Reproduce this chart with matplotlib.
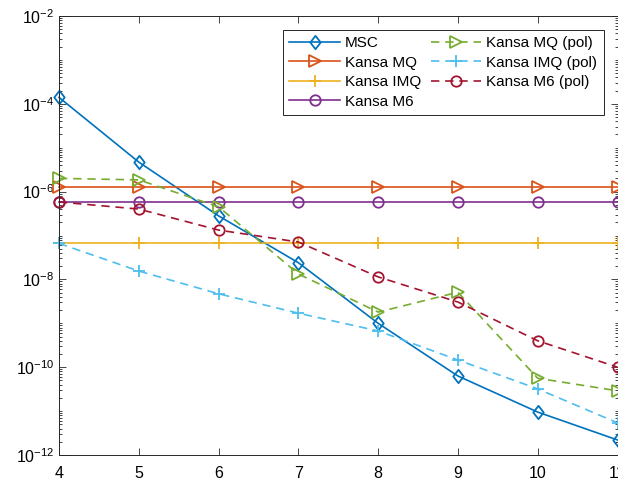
import matplotlib
matplotlib.use("Agg")
import matplotlib.pyplot as plt
from matplotlib.path import Path
from matplotlib.ticker import LogLocator, FixedLocator, NullFormatter, LogFormatterMathtext

plt.rcParams['font.family'] = ['Liberation Sans', 'DejaVu Sans']
plt.rcParams['mathtext.fontset'] = 'custom'
plt.rcParams['mathtext.rm'] = 'Liberation Sans'
plt.rcParams['mathtext.it'] = 'Liberation Sans:italic'
plt.rcParams['mathtext.bf'] = 'Liberation Sans:bold'

# Grid size (x axis)
n = [4, 5, 6, 7, 8, 9, 10, 11]

# Errors per method
msc = [1.4e-4, 4.7e-6, 2.8e-7, 2.4e-8, 1.0e-9, 6.3e-11, 9.5e-12, 2.2e-12]
kansa_mq = [1.27e-6] * 8
kansa_imq = [6.6e-8] * 8
kansa_m6 = [5.8e-7] * 8
kansa_mq_pol = [2.0e-6, 1.85e-6, 4.5e-7, 1.33e-8, 1.8e-9, 5.1e-9, 5.6e-11, 2.9e-11]
kansa_imq_pol = [6.6e-8, 1.55e-8, 4.7e-9, 1.7e-9, 6.7e-10, 1.46e-10, 3.2e-11, 5.4e-12]
kansa_m6_pol = [5.8e-7, 4.0e-7, 1.33e-7, 7.1e-8, 1.14e-8, 3.05e-9, 4.0e-10, 1.0e-10]

labels = ['MSC', 'Kansa MQ', 'Kansa IMQ', 'Kansa M6',
          'Kansa MQ (pol)', 'Kansa IMQ (pol)', 'Kansa M6 (pol)']
y_ticks = [1e-12, 1e-10, 1e-8, 1e-6, 1e-4, 1e-2]

# diamond a bit wider than matplotlib's thin diamond
diamond = Path([(0, 1), (0.78, 0), (0, -1), (-0.78, 0), (0, 1)],
               [Path.MOVETO, Path.LINETO, Path.LINETO, Path.LINETO, Path.CLOSEPOLY])

fig = plt.figure(figsize=(6.18, 4.82), dpi=100)
ax = fig.add_axes([59 / 618, 1 - 455 / 482, 558.5 / 618, 439 / 482])

lw = 1.2
series = [
    (msc, '#0072BD', diamond, '-', 9.6, labels[0]),
    (kansa_mq, '#D95319', '>', '-', 8, labels[1]),
    (kansa_imq, '#EDB120', '+', '-', 9, labels[2]),
    (kansa_m6, '#7E2F8E', 'o', '-', 7.5, labels[3]),
    (kansa_mq_pol, '#77AC30', '>', '--', 8, labels[4]),
    (kansa_imq_pol, '#4DBEEE', '+', '--', 9, labels[5]),
    (kansa_m6_pol, '#A2142F', 'o', '--', 7.5, labels[6]),
]
for vals, col, mk, ls, ms, lab in series:
    line, = ax.semilogy(n, vals, color=col, marker=mk, linestyle=ls, lw=lw,
                        markersize=ms, markerfacecolor='none', markeredgecolor=col,
                        markeredgewidth=1.3, label=lab, clip_on=False)
    if ls == '--':
        line.set_dashes((5, 3.5))

ax.set_xlim(4, 11)
ax.set_ylim(1e-12, 1e-2)
ax.set_xticks(n)
ax.yaxis.set_major_locator(FixedLocator(y_ticks))
ax.yaxis.set_major_formatter(LogFormatterMathtext())
ax.yaxis.set_minor_locator(LogLocator(base=10, subs=range(1, 10), numticks=50))
ax.yaxis.set_minor_formatter(NullFormatter())
ax.tick_params(which='both', direction='in', top=True, right=True, labelsize=11.5,
               width=0.6, color='#262626')
ax.tick_params(which='major', length=5)
ax.tick_params(which='minor', length=2.5)
ax.tick_params(axis='x', pad=8)
for s in ax.spines.values():
    s.set_linewidth(0.7)
    s.set_color('#262626')

leg = ax.legend(ncol=2, loc='upper right', bbox_to_anchor=(0.975, 0.968),
                borderaxespad=0, fontsize=11, handlelength=3.3,
                columnspacing=0.65, handletextpad=0.33, labelspacing=0.36,
                fancybox=False, framealpha=1, edgecolor='#262626',
                borderpad=0.4)
leg.get_frame().set_linewidth(0.7)

fig.savefig('out.png', dpi=100)
